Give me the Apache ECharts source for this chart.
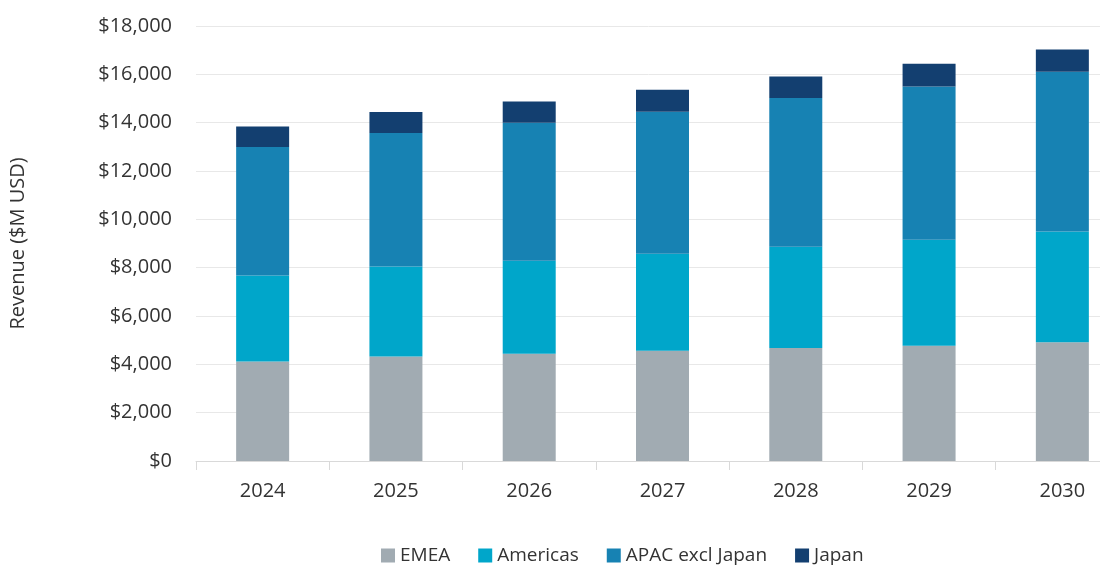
<!DOCTYPE html>
<html>
<head>
<meta charset="utf-8">
<script src="https://cdn.jsdelivr.net/npm/echarts@6/dist/echarts.min.js"></script>
<style>
  html, body { margin: 0; padding: 0; background: #fff; }
  #chart { width: 1100px; height: 576px; }
</style>
</head>
<body>
<div id="chart"></div>
<script>
// years and regional revenue ($M USD)
var years = ['2024', '2025', '2026', '2027', '2028', '2029', '2030'];
var emea = [4120, 4320, 4440, 4560, 4680, 4770, 4910];
var americas = [3560, 3730, 3850, 4020, 4190, 4390, 4590];
var apac = [5310, 5520, 5710, 5870, 6150, 6340, 6610];
var japan = [850, 870, 880, 910, 890, 940, 920];

var font = '"Open Sans", "Noto Sans", sans-serif';

var chart = echarts.init(document.getElementById('chart'));

function bar(name, data, color) {
  return {
    name: name,
    type: 'bar',
    stack: 'total',
    barWidth: 53,
    data: data,
    itemStyle: { color: color },
    emphasis: { disabled: true }
  };
}

var option = {
  animation: false,
  textStyle: { fontFamily: font },
  // the plot runs past the right edge of the picture, as in the original
  grid: { left: 196, width: 933, top: 26, height: 435, outerBoundsMode: 'none' },
  legend: {
    left: 376,
    top: 541,
    itemWidth: 14,
    itemHeight: 14,
    itemGap: 28,
    icon: 'rect',
    textStyle: { fontSize: 19, color: '#333', fontFamily: font },
    data: ['EMEA', 'Americas', 'APAC excl Japan', 'Japan']
  },
  xAxis: {
    type: 'category',
    data: years,
    axisLine: { lineStyle: { color: '#d9d9d9' } },
    axisTick: { show: true, length: 9, lineStyle: { color: '#d9d9d9' } },
    axisLabel: { fontSize: 20, color: '#333', margin: 20, fontFamily: font }
  },
  yAxis: {
    type: 'value',
    min: 0,
    max: 18000,
    interval: 2000,
    name: 'Revenue ($M USD)',
    nameLocation: 'middle',
    nameGap: 168,
    nameTextStyle: { fontSize: 20, color: '#333', fontFamily: font },
    axisLine: { show: false },
    axisTick: { show: false },
    splitLine: { lineStyle: { color: '#e8e8e8' } },
    axisLabel: {
      fontSize: 20,
      color: '#333',
      margin: 24,
      fontFamily: font,
      formatter: function (v) { return '$' + v.toLocaleString('en-US'); }
    }
  },
  series: [
    bar('EMEA', emea, '#a1abb2'),
    bar('Americas', americas, '#00a6ca'),
    bar('APAC excl Japan', apac, '#1782b3'),
    bar('Japan', japan, '#133f70')
  ]
};

chart.setOption(option);
</script>
</body>
</html>
